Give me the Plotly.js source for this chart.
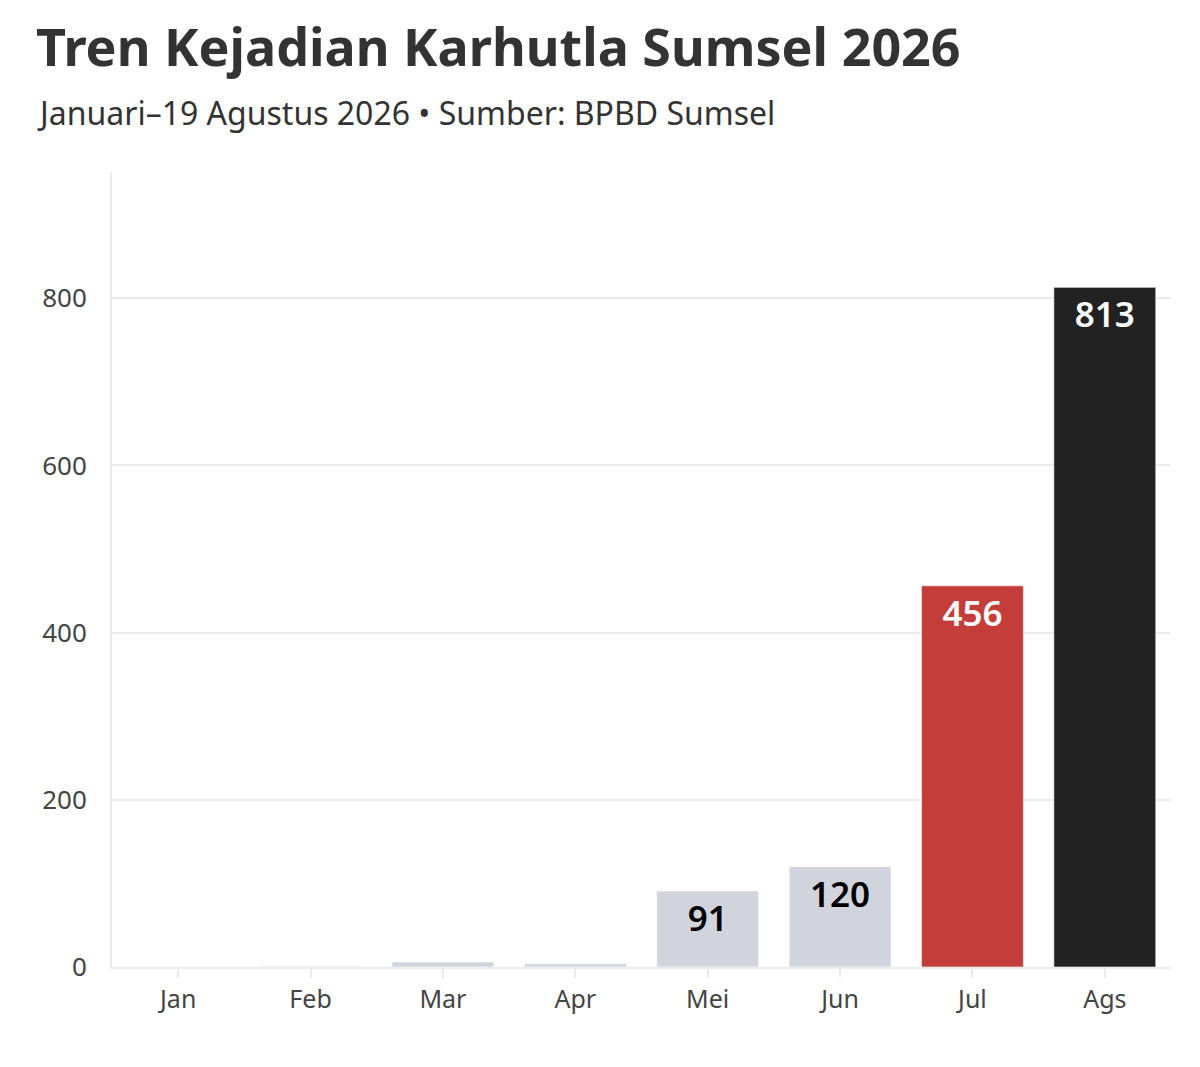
<!DOCTYPE html>
<html>
<head>
<meta charset="utf-8">
<script src="https://cdn.plot.ly/plotly-3.0.1.min.js"></script>
<style>
  html, body { margin: 0; padding: 0; background: #fff; }
  #chart { width: 1200px; height: 1067px; }
</style>
</head>
<body>
<div id="chart"></div>
<script>
// Kejadian karhutla per bulan, Sumsel 2026
const months = ['Jan', 'Feb', 'Mar', 'Apr', 'Mei', 'Jun', 'Jul', 'Ags'];
const incidents = [0, 1, 6, 4, 91, 120, 456, 813];
const barColors = ['#d1d4dc', '#d1d4dc', '#d1d4dc', '#d1d4dc', '#d1d4dc', '#d1d4dc', '#c33d3a', '#222222'];
const labelColors = ['#000', '#000', '#000', '#000', '#000', '#000', '#fff', '#fff'];
const yTicks = [0, 200, 400, 600, 800];

const FONT = '"Noto Sans", "Open Sans", sans-serif';

// small months get no label
const labels = incidents.map(v => v >= 50 ? String(v) : '');

const trace = {
    type: 'bar',
    x: months,
    y: incidents,
    text: labels,
    textposition: 'inside',
    insidetextanchor: 'end',
    textangle: 0,
    cliponaxis: false,
    insidetextfont: { family: FONT, size: 35, color: labelColors, weight: 600 },
    marker: {
        color: barColors,
        line: { color: 'rgba(255,255,255,0.6)', width: 1 }
    },
    hoverinfo: 'none'
};

const layout = {
    width: 1200,
    height: 1067,
    margin: { l: 112, r: 29, t: 172, b: 100 },
    paper_bgcolor: '#fff',
    plot_bgcolor: '#fff',
    showlegend: false,
    bargap: 0.23,
    font: { family: FONT, color: '#444' },
    title: {
        text: '<b>Tren Kejadian Karhutla Sumsel 2026</b>',
        font: { family: FONT, size: 52, color: '#333' },
        xref: 'container', yref: 'container',
        x: 36 / 1200, xanchor: 'left',
        y: 1 - 48 / 1067, yanchor: 'middle'
    },
    annotations: [{
        text: 'Januari–19 Agustus 2026 • Sumber: BPBD Sumsel',
        xref: 'paper', yref: 'paper',
        x: (35 - 112) / 1059, xanchor: 'left',
        y: (967 - 112) / 795, yanchor: 'middle',
        showarrow: false,
        font: { family: FONT, size: 32, color: '#333' }
    }],
    xaxis: {
        type: 'category',
        showgrid: false,
        showline: true,
        linecolor: '#ebebeb',
        linewidth: 2,
        ticks: 'outside',
        ticklen: 9,
        tickwidth: 2,
        tickcolor: '#ebebeb',
        tickfont: { family: FONT, size: 25, color: '#444' },
        fixedrange: true
    },
    yaxis: {
        range: [0, 951],
        tickvals: yTicks,
        showgrid: true,
        gridcolor: '#ebebeb',
        gridwidth: 2,
        zeroline: false,
        showline: true,
        linecolor: '#ebebeb',
        linewidth: 2,
        ticks: '',
        ticklabelstandoff: 18,
        tickfont: { family: FONT, size: 26, color: '#444' },
        fixedrange: true
    }
};

Plotly.newPlot('chart', [trace], layout, { displayModeBar: false, staticPlot: true });
</script>
</body>
</html>
